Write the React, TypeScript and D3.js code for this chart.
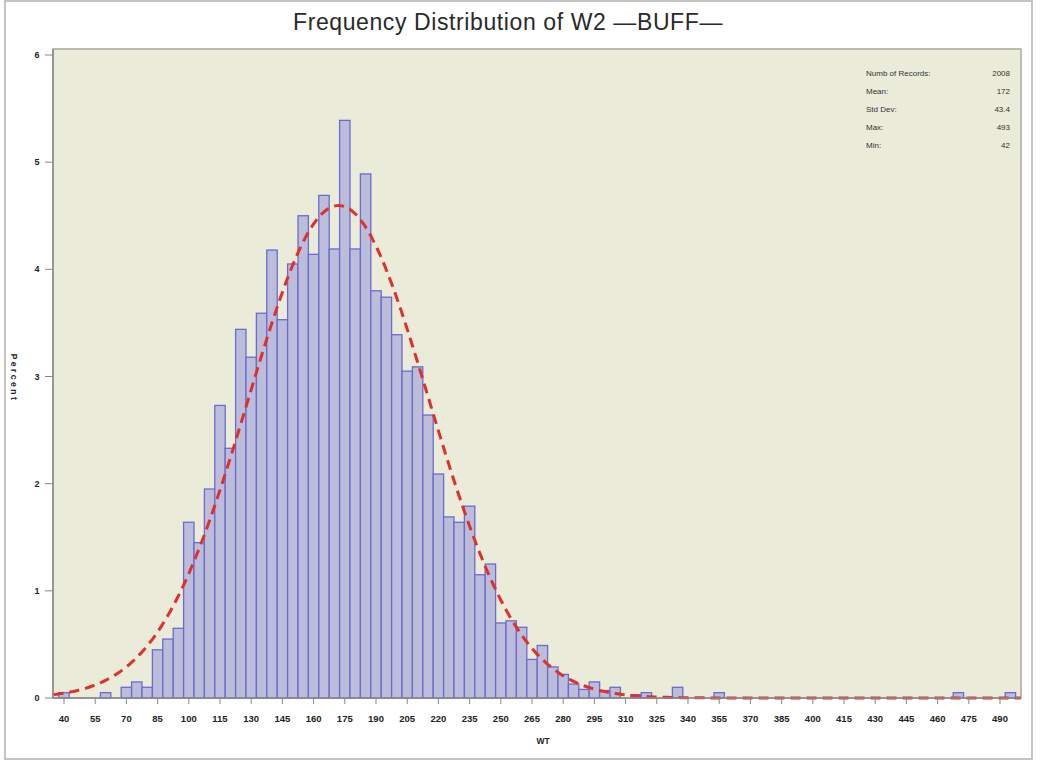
import React from "react";
import * as d3 from "d3";

// Bin midpoints (bin width 5) and percent of records
const binMids = [40, 45, 50, 55, 60, 65, 70, 75, 80, 85, 90, 95, 100, 105, 110, 115, 120, 125, 130, 135, 140, 145, 150, 155, 160, 165, 170, 175, 180, 185, 190, 195, 200, 205, 210, 215, 220, 225, 230, 235, 240, 245, 250, 255, 260, 265, 270, 275, 280, 285, 290, 295, 300, 305, 310, 315, 320, 325, 330, 335, 340, 345, 350, 355, 470, 495];
const percents = [0.05, 0, 0, 0, 0.05, 0, 0.1, 0.15, 0.1, 0.45, 0.55, 0.65, 1.64, 1.45, 1.95, 2.73, 2.33, 3.44, 3.18, 3.59, 4.18, 3.53, 4.05, 4.5, 4.14, 4.69, 4.19, 5.39, 4.19, 4.89, 3.8, 3.74, 3.39, 3.05, 3.09, 2.64, 2.09, 1.69, 1.64, 1.79, 1.15, 1.25, 0.7, 0.72, 0.66, 0.36, 0.49, 0.29, 0.22, 0.13, 0.08, 0.15, 0.07, 0.1, 0, 0.03, 0.05, 0, 0, 0.1, 0, 0, 0, 0.05, 0.05, 0.05];

const xTicks = d3.range(40, 491, 15);
const yTicks = [0, 1, 2, 3, 4, 5, 6];

const statLabels = ["Numb of Records:", "Mean:", "Std Dev:", "Max:", "Min:"];
const statValues = ["2008", "172", "43.4", "493", "42"];

const meanVal = 172;
const sdVal = 43.4;
const binWidth = 5;

export default function App() {
  const W = 1046, H = 761;
  const x = d3.scaleLinear().domain([35, 500]).range([53.6, 1020.8]);
  const y = d3.scaleLinear().domain([0, 6]).range([698, 55]);
  const plotL = 53, plotR = 1021, plotT = 49, plotB = 698;

  const curvePts = d3.range(35, 500.01, 1).map((v) => {
    const z = (v - meanVal) / sdVal;
    const p = (binWidth * 100) / (sdVal * Math.sqrt(2 * Math.PI)) * Math.exp(-0.5 * z * z);
    return [v, p] as [number, number];
  });
  const line = d3.line<[number, number]>().x((d) => x(d[0])).y((d) => y(d[1])).curve(d3.curveBasis);

  const tickFont = "'Liberation Sans', Arial, sans-serif";

  return (
    <svg width={W} height={H} style={{ position: "absolute", left: 0, top: 0, background: "#fff" }}>
      <rect x={5} y={1} width={1027} height={758} fill="#fff" stroke="#c4c4c4" strokeWidth={2} />
      <text x={508} y={30} textAnchor="middle" fontFamily={tickFont} fontSize={23} letterSpacing={0.6} fill="#2a2a2a">
        Frequency Distribution of W2 —BUFF—
      </text>
      <rect x={plotL} y={plotT} width={plotR - plotL} height={plotB - plotT} fill="#ebebda" stroke="#a8a8a0" strokeWidth={1.5} />
      {binMids.map((m, i) =>
        percents[i] > 0 ? (
          <rect
            key={i}
            x={x(m - binWidth / 2)}
            y={y(percents[i])}
            width={x(m + binWidth / 2) - x(m - binWidth / 2)}
            height={y(0) - y(percents[i])}
            fill="#bcbdda"
            stroke="#6a6bd0"
            strokeWidth={1.3}
          />
        ) : null
      )}
      <path d={line(curvePts) || ""} fill="none" stroke="#e0302a" strokeWidth={3} strokeDasharray="10,6" />
      <line x1={plotL} x2={plotR} y1={plotB} y2={plotB} stroke="#8a8a8a" strokeWidth={1.5} />
      <line x1={plotL} x2={plotL} y1={plotT} y2={plotB} stroke="#8a8a8a" strokeWidth={1.5} />
      {yTicks.map((t) => (
        <g key={t}>
          <line x1={45} x2={plotL} y1={y(t)} y2={y(t)} stroke="#888" strokeWidth={1} />
          <text x={37} y={y(t) + 3} textAnchor="middle" fontFamily={tickFont} fontSize={9} fontWeight="bold" fill="#222">
            {t}
          </text>
        </g>
      ))}
      {xTicks.map((t) => (
        <g key={t}>
          <line x1={x(t)} x2={x(t)} y1={plotB} y2={plotB + 6} stroke="#888" strokeWidth={1} />
          <text x={x(t)} y={722} textAnchor="middle" fontFamily={tickFont} fontSize={9.5} fontWeight="bold" fill="#222">
            {t}
          </text>
        </g>
      ))}
      <text x={543} y={744} textAnchor="middle" fontFamily={tickFont} fontSize={8.5} fontWeight="bold" fill="#222">
        WT
      </text>
      <text transform="translate(11,378) rotate(90)" textAnchor="middle" fontFamily={tickFont} fontSize={8.5} fontWeight="bold" fill="#222" letterSpacing={2.5}>
        Percent
      </text>
      {statLabels.map((s, i) => (
        <g key={s}>
          <text x={866} y={76 + i * 18} fontFamily={tickFont} fontSize={8} fill="#333">
            {s}
          </text>
          <text x={1010} y={76 + i * 18} textAnchor="end" fontFamily={tickFont} fontSize={8} fill="#333">
            {statValues[i]}
          </text>
        </g>
      ))}
    </svg>
  );
}
